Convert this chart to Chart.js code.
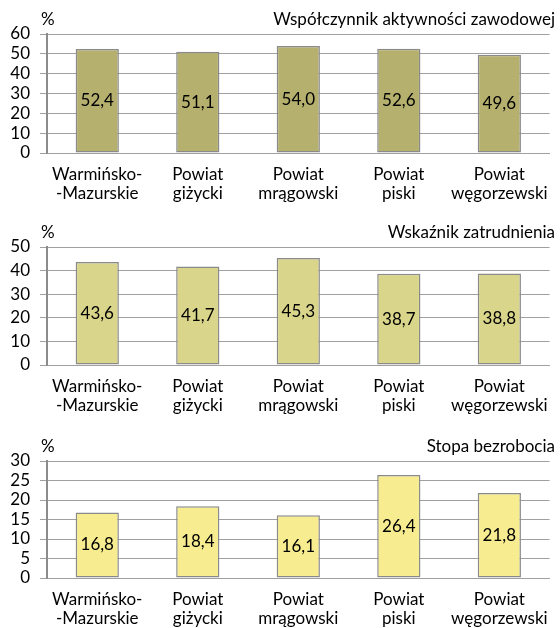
<!DOCTYPE html>
<html lang="pl">
<head>
<meta charset="UTF-8">
<title>Rynek pracy</title>
<script src="https://cdn.jsdelivr.net/npm/chart.js"></script>
<style>
  body { margin: 0; background: #fff; }
  canvas { display: block; }
</style>
</head>
<body>
<canvas id="chart1" width="560" height="210"></canvas>
<canvas id="chart2" width="560" height="210"></canvas>
<canvas id="chart3" width="560" height="208"></canvas>
<script>
// data
const regions = [
  ['Warmińsko-', '-Mazurskie'],
  ['Powiat', 'giżycki'],
  ['Powiat', 'mrągowski'],
  ['Powiat', 'piski'],
  ['Powiat', 'węgorzewski']
];
const activityRate = [52.4, 51.1, 54.0, 52.6, 49.6];
const employmentRate = [43.6, 41.7, 45.3, 38.7, 38.8];
const unemploymentRate = [16.8, 18.4, 16.1, 26.4, 21.8];

const FONT = 'Lato, "Open Sans", sans-serif';
const FONT_SIZE = 17;

// value in the middle of each bar, plus "%" and title above the plot
const labelsPlugin = {
  id: 'labels',
  afterDatasetsDraw(chart) {
    const ctx = chart.ctx;
    const meta = chart.getDatasetMeta(0);
    const values = chart.data.datasets[0].data;
    ctx.save();
    ctx.font = FONT_SIZE + 'px ' + FONT;
    ctx.fillStyle = '#000';
    ctx.textAlign = 'center';
    ctx.textBaseline = 'middle';
    meta.data.forEach((bar, i) => {
      const txt = values[i].toFixed(1).replace('.', ',');
      ctx.fillText(txt, bar.x, (bar.y + bar.base) / 2);
    });
    const top = chart.chartArea.top - 14;
    ctx.textAlign = 'left';
    ctx.fillText('%', 41, top);
    ctx.textAlign = 'right';
    ctx.fillText(chart.options.plugins.header.text, 555, top);
    ctx.restore();
  }
};

function makeChart(id, title, values, max, step, color, padTop, padBottom) {
  return new Chart(document.getElementById(id), {
    type: 'bar',
    data: {
      labels: regions,
      datasets: [{
        data: values,
        backgroundColor: color,
        borderColor: '#8a8a8a',
        borderWidth: 1.5,
        borderSkipped: false,
        categoryPercentage: 1,
        barPercentage: 0.43
      }]
    },
    options: {
      responsive: false,
      animation: false,
      layout: { padding: { top: padTop, bottom: padBottom, left: 0, right: 4 } },
      plugins: {
        legend: { display: false },
        tooltip: { enabled: false },
        header: { text: title }
      },
      scales: {
        x: {
          grid: { display: false, drawTicks: false },
          border: { color: '#a0a0a0', width: 1 },
          ticks: {
            color: '#000',
            padding: 12,
            maxRotation: 0,
            autoSkip: false,
            font: { family: FONT, size: FONT_SIZE, lineHeight: 1.12 }
          },
          afterFit(scale) { scale.height = 50; }
        },
        y: {
          min: 0,
          max: max,
          grid: { color: '#a0a0a0', lineWidth: 1, tickLength: 7 },
          border: { color: '#8c8c8c', width: 2 },
          ticks: {
            stepSize: step,
            autoSkip: false,
            color: '#000',
            padding: 10,
            font: { family: FONT, size: FONT_SIZE }
          },
          afterFit(scale) { scale.width = 47; }
        }
      }
    },
    plugins: [labelsPlugin]
  });
}

makeChart('chart1', 'Współczynnik aktywności zawodowej', activityRate, 60, 10, '#b5b06e', 34, 7);
makeChart('chart2', 'Wskaźnik zatrudnienia', employmentRate, 50, 10, '#d9d58a', 37, 5);
makeChart('chart3', 'Stopa bezrobocia', unemploymentRate, 30, 5, '#f7ec90', 41, 0);
</script>
</body>
</html>
